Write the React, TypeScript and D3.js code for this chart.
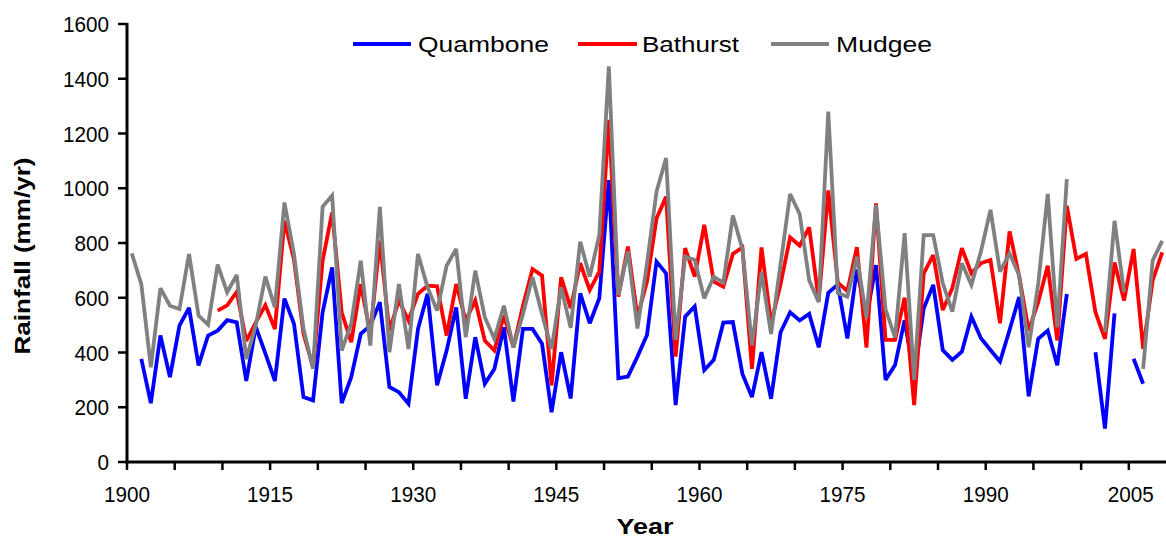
import React from "react";
import * as d3 from "d3";

const years: number[] = d3.range(1900, 2009);

// Mudgee (grey), 1900-2008
const mudgee: (number | null)[] = [
  762, 650, 346, 635, 571, 559, 760, 535, 502, 721,
  620, 683, 376, 500, 677, 565, 948, 760, 486, 340,
  932, 973, 407, 505, 735, 425, 932, 401, 650, 413,
  760, 638, 553, 717, 778, 456, 699, 529, 450, 571,
  419, 541, 675, 541, 413, 638, 490, 805, 677, 829,
  1445, 610, 769, 488, 726, 988, 1110, 446, 750, 738,
  598, 677, 655, 900, 778, 426, 693, 468, 723, 979,
  906, 663, 584, 1280, 618, 604, 750, 527, 939, 558,
  455, 836, 300, 829, 829, 653, 549, 726, 647, 769,
  921, 695, 762, 682, 419, 650, 979, 492, 1033, null,
  null, null, 474, 881, 620, null, 340, 736, 808,
];

// Bathurst (red), 1900-2008
const bathurst: (number | null)[] = [
  null, null, null, null, null, null, null, null, null, 553,
  572, 621, 442, 510, 573, 486, 881, 740, 468, 346,
  735, 912, 547, 438, 650, 470, 808, 480, 590, 517,
  614, 644, 642, 462, 650, 517, 590, 444, 407, 535,
  419, 571, 705, 681, 280, 675, 562, 726, 628, 695,
  1250, 604, 787, 530, 659, 890, 969, 385, 781, 677,
  866, 659, 640, 760, 784, 340, 784, 505, 650, 821,
  790, 857, 590, 992, 655, 624, 785, 418, 945, 446,
  446, 600, 208, 689, 756, 555, 635, 781, 689, 726,
  738, 507, 842, 680, 480, 584, 717, 444, 936, 742,
  760, 547, 450, 729, 590, 778, 413, 663, 766,
];

// Quambone (blue), 1900-2008
const quambone: (number | null)[] = [
  null, 377, 215, 462, 310, 498, 563, 353, 462, 480,
  518, 510, 296, 494, 397, 296, 597, 505, 237, 225,
  547, 711, 215, 310, 468, 498, 584, 274, 255, 213,
  486, 615, 280, 407, 565, 231, 456, 286, 340, 492,
  221, 486, 486, 432, 182, 401, 232, 616, 507, 598,
  1030, 306, 312, 385, 464, 732, 689, 208, 531, 568,
  336, 373, 509, 511, 322, 237, 401, 231, 474, 547,
  517, 541, 419, 618, 648, 451, 703, 530, 719, 300,
  354, 518, 310, 561, 647, 409, 373, 403, 531, 452,
  409, 367, 482, 603, 240, 450, 480, 353, 614, null,
  null, 401, 122, 543, null, 377, 286, null, null,
];

const seriesNames = ["Quambone", "Bathurst", "Mudgee"];
const seriesColors = ["#0000FF", "#FF0000", "#808080"];
const seriesData = [quambone, bathurst, mudgee];

const yTicks = [0, 200, 400, 600, 800, 1000, 1200, 1400, 1600];
const xMinorTicks = d3.range(1900, 2006, 5);
const xLabelTicks = [1900, 1915, 1930, 1945, 1960, 1975, 1990, 2005];

const FONT = "'Liberation Sans', Arial, sans-serif";

export default function App() {
  const x = d3.scaleLinear().domain([1900, 2009]).range([127, 1167]);
  const y = d3.scaleLinear().domain([0, 1600]).range([462, 24]);

  const line = d3
    .line<[number, number | null]>()
    .defined((d) => d[1] != null)
    .x((d) => x(d[0] + 0.5))
    .y((d) => y(d[1] as number));

  const legendItems = [
    { x1: 353, x2: 411, tx: 418, tw: 131 },
    { x1: 578, x2: 637, tx: 642, tw: 97 },
    { x1: 771, x2: 829, tx: 836, tw: 96 },
  ];

  const digitW = 11.5;

  return (
    <svg
      width={1166}
      height={540}
      style={{ position: "absolute", left: 0, top: 0, background: "#fff" }}
      fontFamily={FONT}
    >
      <rect x={0} y={0} width={1166} height={540} fill="#fff" />
      {/* series */}
      {seriesData.map((s, i) => (
        <path
          key={seriesNames[i]}
          d={line(years.map((yr, k) => [yr, s[k]] as [number, number | null])) || ""}
          fill="none"
          stroke={seriesColors[i]}
          strokeWidth={3.8}
          strokeLinejoin="miter"
          strokeMiterlimit={3}
        />
      ))}
      {/* y axis */}
      <line x1={x(1900)} x2={x(1900)} y1={y(1600) - 1} y2={y(0) + 1.5} stroke="#000" strokeWidth={3} />
      {yTicks.map((t) => (
        <g key={"y" + t}>
          <line x1={118} x2={x(1900)} y1={y(t)} y2={y(t)} stroke="#000" strokeWidth={2.5} />
          <text
            x={109}
            y={y(t) + 8}
            textAnchor="end"
            fontSize={22.5}
            fill="#000"
            textLength={String(t).length * digitW}
            lengthAdjust="spacingAndGlyphs"
          >
            {t}
          </text>
        </g>
      ))}
      {/* x axis */}
      <line x1={x(1900) - 1.5} x2={1166} y1={y(0)} y2={y(0)} stroke="#000" strokeWidth={3} />
      {xMinorTicks.map((t) => (
        <line key={"xt" + t} x1={x(t)} x2={x(t)} y1={y(0)} y2={y(0) + 8} stroke="#000" strokeWidth={2.5} />
      ))}
      {xLabelTicks.map((t) => (
        <text
          key={"xl" + t}
          x={t === 2005 ? x(t) + 2 : x(t)}
          y={502}
          textAnchor="middle"
          fontSize={22.5}
          fill="#000"
          textLength={46}
          lengthAdjust="spacingAndGlyphs"
        >
          {t}
        </text>
      ))}
      {/* axis titles */}
      <text x={645} y={534} textAnchor="middle" fontSize={22} fontWeight="bold" textLength={57} lengthAdjust="spacingAndGlyphs">
        Year
      </text>
      <text
        transform={`translate(30,256) rotate(-90)`}
        textAnchor="middle"
        fontSize={22}
        fontWeight="bold"
        textLength={197}
        lengthAdjust="spacingAndGlyphs"
      >
        Rainfall (mm/yr)
      </text>
      {/* legend */}
      {legendItems.map((l, i) => (
        <g key={"lg" + i}>
          <line x1={l.x1} x2={l.x2} y1={44} y2={44} stroke={seriesColors[i]} strokeWidth={3.8} />
          <text x={l.tx} y={52} fontSize={22} textLength={l.tw} lengthAdjust="spacingAndGlyphs" fill="#000">
            {seriesNames[i]}
          </text>
        </g>
      ))}
    </svg>
  );
}
